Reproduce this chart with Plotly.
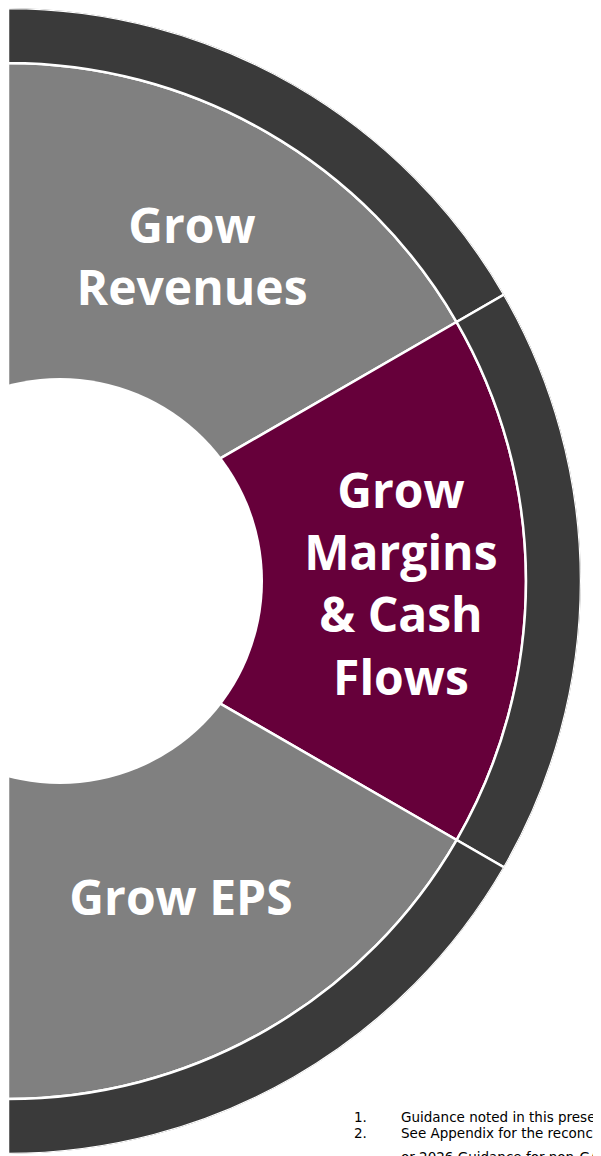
import plotly.graph_objects as go

# ---------------- data ----------------
categories = ["Grow Revenues", "Grow Margins & Cash Flows", "Grow EPS"]
label_text = ["Grow<br>Revenues", "Grow<br>Margins<br>&amp; Cash<br>Flows", "Grow EPS"]
shares = [1, 1, 1]  # three equal pillars sharing the half circle
slice_colors = ["#808080", "#66003a", "#808080"]
ring_color = "#3a3a3a"
footnote_nums = ["1.", "2.", ""]
footnote_texts = [
    "Guidance noted in this presentation",
    "See Appendix for the reconciliation",
    "or 2026 Guidance for non-GAAP measures",
]

# ---------------- layout constants ----------------
W, H = 601, 1156
PAGE = 8             # browser body margin offset
R_MAX = 573          # radial axis range (≈ pixels)
R_INNER_OUTER = 518  # outer edge of the coloured ring
RING_T = R_MAX - R_INNER_OUTER

total = sum(shares)
widths = [180.0 * s / total for s in shares]
centers = []
acc = 90.0
for w in widths:
    centers.append(acc - w / 2)
    acc -= w

fig = go.Figure()

fig.add_trace(go.Barpolar(
    r=[R_INNER_OUTER] * len(categories),
    base=[0] * len(categories),
    theta=centers,
    width=widths,
    marker=dict(color=slice_colors, line=dict(color="white", width=2.5)),
    name="pillars",
    text=categories,
    hoverinfo="text",
))

fig.add_trace(go.Barpolar(
    r=[RING_T] * len(categories),
    base=[R_INNER_OUTER] * len(categories),
    theta=centers,
    width=widths,
    marker=dict(color=ring_color, line=dict(color="white", width=2.5)),
    name="ring",
    hoverinfo="skip",
))

# label positions (radius, angle) inside each slice
label_r = [368, 393, 365.5]
label_theta = [60.0, -1.2, -61.75]
fig.add_trace(go.Scatterpolar(
    r=label_r,
    theta=label_theta,
    mode="text",
    text=label_text,
    textposition="middle center",
    textfont=dict(family="Open Sans", size=48, color="white", weight="bold"),
    hoverinfo="skip",
))


def px(xpage):
    return (xpage - PAGE) / W


def py(ypage):
    return (H - (ypage - PAGE)) / H


# offset white centre circle
cx, cy, cr = 60, 581, 203
fig.add_shape(type="circle", xref="paper", yref="paper",
              x0=px(cx - cr), x1=px(cx + cr),
              y0=py(cy + cr), y1=py(cy - cr),
              fillcolor="white", line=dict(width=0), layer="above")

foot_y = [1117, 1133, 1157]
for num, txt, y in zip(footnote_nums, footnote_texts, foot_y):
    if num:
        fig.add_annotation(x=px(352), y=py(y), xref="paper", yref="paper",
                           text=num, showarrow=False, xanchor="left", yanchor="middle",
                           font=dict(family="DejaVu Sans", size=13.5, color="#000000"))
    fig.add_annotation(x=px(399), y=py(y), xref="paper", yref="paper",
                       text=txt, showarrow=False, xanchor="left", yanchor="middle",
                       font=dict(family="DejaVu Sans", size=13.5, color="#000000"))

fig.update_layout(
    width=W, height=H,
    margin=dict(l=0, r=0, t=0, b=0),
    paper_bgcolor="white",
    plot_bgcolor="white",
    showlegend=False,
    polar=dict(
        domain=dict(x=[0, R_MAX / W], y=[(H - 2 * R_MAX) / H, 1]),
        sector=[-90, 90],
        hole=0,
        bgcolor="white",
        radialaxis=dict(range=[0, R_MAX], visible=False),
        angularaxis=dict(visible=False, direction="counterclockwise", rotation=0),
    ),
)

fig.write_html("out.html")
